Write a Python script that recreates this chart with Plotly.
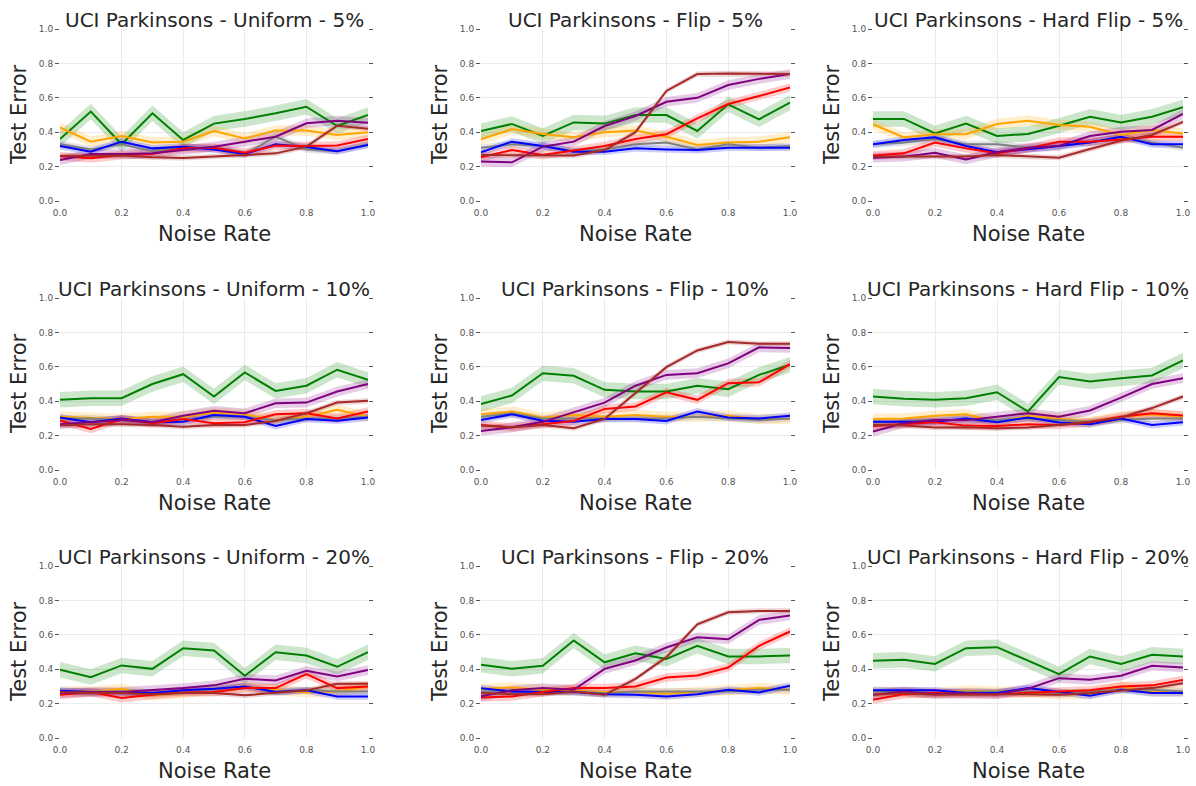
import plotly.graph_objects as go

# ---------------- data ----------------
NOISE = [0.0, 0.1, 0.2, 0.3, 0.4, 0.5, 0.6, 0.7, 0.8, 0.9, 1.0]

TITLES = [
    "UCI Parkinsons - Uniform - 5%", "UCI Parkinsons - Flip - 5%", "UCI Parkinsons - Hard Flip - 5%",
    "UCI Parkinsons - Uniform - 10%", "UCI Parkinsons - Flip - 10%", "UCI Parkinsons - Hard Flip - 10%",
    "UCI Parkinsons - Uniform - 20%", "UCI Parkinsons - Flip - 20%", "UCI Parkinsons - Hard Flip - 20%",
]

Y_TICKS = [0.0, 0.2, 0.4, 0.6, 0.8, 1.0]
X_TICKS = [0.0, 0.2, 0.4, 0.6, 0.8, 1.0]

GREEN = [
    [0.36, 0.52, 0.33, 0.51, 0.355, 0.45, 0.477, 0.51, 0.548, 0.436, 0.50],
    [0.407, 0.448, 0.378, 0.457, 0.45, 0.50, 0.50, 0.407, 0.562, 0.475, 0.572],
    [0.477, 0.477, 0.393, 0.45, 0.378, 0.39, 0.438, 0.49, 0.457, 0.49, 0.545],
    [0.408, 0.417, 0.417, 0.50, 0.557, 0.427, 0.567, 0.46, 0.49, 0.583, 0.524],
    [0.384, 0.433, 0.563, 0.548, 0.466, 0.456, 0.456, 0.49, 0.47, 0.553, 0.612],
    [0.427, 0.414, 0.408, 0.417, 0.452, 0.34, 0.54, 0.515, 0.534, 0.55, 0.637],
    [0.397, 0.354, 0.422, 0.402, 0.522, 0.509, 0.362, 0.499, 0.48, 0.414, 0.499],
    [0.426, 0.402, 0.42, 0.567, 0.44, 0.493, 0.46, 0.536, 0.474, 0.474, 0.48],
    [0.449, 0.455, 0.431, 0.522, 0.528, 0.449, 0.371, 0.474, 0.431, 0.484, 0.474],
]
ORANGE = [
    [0.428, 0.345, 0.378, 0.34, 0.345, 0.407, 0.364, 0.41, 0.41, 0.384, 0.40],
    [0.358, 0.418, 0.39, 0.37, 0.40, 0.41, 0.374, 0.326, 0.34, 0.345, 0.37],
    [0.446, 0.37, 0.388, 0.388, 0.448, 0.467, 0.442, 0.432, 0.384, 0.413, 0.393],
    [0.31, 0.305, 0.297, 0.31, 0.31, 0.334, 0.324, 0.29, 0.31, 0.35, 0.31],
    [0.324, 0.34, 0.305, 0.32, 0.31, 0.32, 0.31, 0.31, 0.315, 0.297, 0.297],
    [0.297, 0.30, 0.315, 0.324, 0.28, 0.315, 0.30, 0.28, 0.31, 0.324, 0.31],
    [0.271, 0.271, 0.286, 0.248, 0.261, 0.286, 0.30, 0.28, 0.265, 0.271, 0.30],
    [0.286, 0.294, 0.28, 0.275, 0.267, 0.267, 0.257, 0.267, 0.277, 0.29, 0.28],
    [0.271, 0.265, 0.261, 0.275, 0.271, 0.267, 0.255, 0.255, 0.30, 0.271, 0.271],
]
GRAY = [
    [0.33, 0.30, 0.33, 0.29, 0.31, 0.31, 0.27, 0.374, 0.30, 0.29, 0.33],
    [0.31, 0.33, 0.32, 0.29, 0.30, 0.33, 0.34, 0.30, 0.33, 0.31, 0.32],
    [0.33, 0.34, 0.36, 0.33, 0.33, 0.31, 0.32, 0.34, 0.37, 0.34, 0.31],
    [0.30, 0.30, 0.29, 0.28, 0.29, 0.31, 0.31, 0.29, 0.30, 0.30, 0.31],
    [0.31, 0.33, 0.30, 0.30, 0.30, 0.30, 0.30, 0.31, 0.30, 0.29, 0.30],
    [0.28, 0.28, 0.29, 0.29, 0.29, 0.30, 0.29, 0.28, 0.29, 0.30, 0.30],
    [0.27, 0.27, 0.27, 0.26, 0.27, 0.28, 0.30, 0.27, 0.28, 0.27, 0.27],
    [0.27, 0.27, 0.27, 0.27, 0.26, 0.27, 0.27, 0.27, 0.27, 0.28, 0.28],
    [0.27, 0.27, 0.26, 0.27, 0.27, 0.27, 0.26, 0.27, 0.28, 0.28, 0.27],
]
BLUE = [
    [0.32, 0.287, 0.345, 0.306, 0.316, 0.30, 0.273, 0.33, 0.314, 0.29, 0.326],
    [0.283, 0.345, 0.32, 0.287, 0.287, 0.306, 0.30, 0.296, 0.31, 0.31, 0.31],
    [0.33, 0.355, 0.37, 0.32, 0.283, 0.30, 0.32, 0.34, 0.374, 0.33, 0.33],
    [0.305, 0.278, 0.30, 0.278, 0.28, 0.32, 0.31, 0.256, 0.297, 0.287, 0.305],
    [0.29, 0.324, 0.287, 0.28, 0.297, 0.297, 0.285, 0.34, 0.305, 0.30, 0.315],
    [0.28, 0.28, 0.28, 0.30, 0.278, 0.305, 0.276, 0.266, 0.30, 0.262, 0.278],
    [0.275, 0.267, 0.267, 0.261, 0.277, 0.286, 0.30, 0.267, 0.277, 0.242, 0.242],
    [0.29, 0.271, 0.267, 0.267, 0.255, 0.251, 0.242, 0.255, 0.28, 0.265, 0.304],
    [0.277, 0.277, 0.277, 0.261, 0.261, 0.29, 0.267, 0.246, 0.28, 0.261, 0.261],
]
RED = [
    [0.26, 0.248, 0.267, 0.273, 0.306, 0.31, 0.28, 0.323, 0.32, 0.323, 0.36],
    [0.254, 0.296, 0.267, 0.293, 0.32, 0.36, 0.388, 0.48, 0.564, 0.61, 0.66],
    [0.264, 0.277, 0.34, 0.306, 0.277, 0.306, 0.345, 0.345, 0.358, 0.374, 0.374],
    [0.287, 0.239, 0.295, 0.272, 0.297, 0.272, 0.278, 0.324, 0.33, 0.30, 0.34],
    [0.262, 0.248, 0.266, 0.285, 0.355, 0.369, 0.452, 0.408, 0.505, 0.51, 0.615],
    [0.256, 0.266, 0.278, 0.258, 0.256, 0.266, 0.262, 0.278, 0.31, 0.33, 0.317],
    [0.251, 0.267, 0.232, 0.251, 0.265, 0.267, 0.29, 0.29, 0.371, 0.29, 0.30],
    [0.236, 0.242, 0.267, 0.29, 0.29, 0.30, 0.352, 0.364, 0.41, 0.536, 0.619],
    [0.222, 0.255, 0.261, 0.255, 0.255, 0.261, 0.271, 0.277, 0.30, 0.306, 0.338],
]
PURPLE = [
    [0.238, 0.273, 0.273, 0.277, 0.296, 0.316, 0.345, 0.374, 0.452, 0.467, 0.455],
    [0.229, 0.225, 0.316, 0.345, 0.436, 0.494, 0.577, 0.60, 0.674, 0.71, 0.738],
    [0.252, 0.258, 0.28, 0.242, 0.283, 0.31, 0.32, 0.378, 0.403, 0.413, 0.506],
    [0.266, 0.28, 0.29, 0.278, 0.315, 0.344, 0.33, 0.388, 0.392, 0.456, 0.50],
    [0.227, 0.248, 0.28, 0.334, 0.392, 0.49, 0.553, 0.563, 0.62, 0.713, 0.709],
    [0.223, 0.272, 0.29, 0.29, 0.31, 0.33, 0.31, 0.346, 0.421, 0.50, 0.534],
    [0.261, 0.267, 0.267, 0.277, 0.29, 0.306, 0.344, 0.335, 0.391, 0.358, 0.395],
    [0.242, 0.277, 0.29, 0.28, 0.402, 0.451, 0.526, 0.586, 0.574, 0.687, 0.712],
    [0.251, 0.271, 0.255, 0.261, 0.255, 0.286, 0.348, 0.338, 0.362, 0.42, 0.41],
]
BROWN = [
    [0.262, 0.265, 0.265, 0.254, 0.25, 0.258, 0.267, 0.277, 0.316, 0.438, 0.42],
    [0.267, 0.267, 0.264, 0.264, 0.296, 0.40, 0.64, 0.738, 0.742, 0.738, 0.738],
    [0.258, 0.258, 0.258, 0.258, 0.267, 0.258, 0.252, 0.302, 0.35, 0.384, 0.46],
    [0.258, 0.266, 0.266, 0.262, 0.252, 0.262, 0.262, 0.285, 0.33, 0.392, 0.402],
    [0.258, 0.248, 0.262, 0.243, 0.297, 0.447, 0.598, 0.695, 0.744, 0.734, 0.734],
    [0.262, 0.258, 0.247, 0.248, 0.243, 0.247, 0.262, 0.28, 0.305, 0.36, 0.427],
    [0.267, 0.261, 0.261, 0.255, 0.261, 0.261, 0.248, 0.261, 0.277, 0.315, 0.315],
    [0.261, 0.255, 0.255, 0.271, 0.251, 0.344, 0.47, 0.661, 0.731, 0.739, 0.739],
    [0.251, 0.261, 0.251, 0.255, 0.255, 0.255, 0.251, 0.261, 0.277, 0.29, 0.319],
]

# band half-widths (spread around each mean line)
BAND = {"green": 0.045, "orange": 0.03, "gray": 0.02, "blue": 0.02,
        "red": 0.025, "purple": 0.028, "brown": 0.015}

SERIES = [
    ("green", GREEN, "rgb(0,128,0)", "rgba(0,128,0,0.2)"),
    ("orange", ORANGE, "rgb(255,165,0)", "rgba(255,165,0,0.2)"),
    ("gray", GRAY, "rgb(128,128,128)", "rgba(128,128,128,0.2)"),
    ("blue", BLUE, "rgb(0,0,255)", "rgba(0,0,255,0.2)"),
    ("red", RED, "rgb(255,0,0)", "rgba(255,0,0,0.2)"),
    ("purple", PURPLE, "rgb(128,0,128)", "rgba(128,0,128,0.2)"),
    ("brown", BROWN, "rgb(165,42,42)", "rgba(165,42,42,0.2)"),
]

# ---------------- layout geometry (pixels) ----------------
W, H = 1196, 786
COLS = [(60, 368), (481, 790), (873, 1183)]
ROWS = [(29, 201), (298, 470), (566, 738)]

TEXT = "#262626"
TICKC = "#555555"
FONT = "DejaVu Sans"

fig = go.Figure()
annotations = []
layout = {}

for p in range(9):
    r, c = divmod(p, 3)
    idx = p + 1
    xa = "x" if idx == 1 else f"x{idx}"
    ya = "y" if idx == 1 else f"y{idx}"
    x0, x1 = COLS[c]
    y0, y1 = ROWS[r]

    for name, data, lc, fc in SERIES:
        vals = data[p]
        up = [v + BAND[name] for v in vals]
        lo = [v - BAND[name] for v in vals]
        fig.add_trace(go.Scatter(
            x=NOISE + NOISE[::-1], y=up + lo[::-1], fill="toself",
            fillcolor=fc, line=dict(width=0), mode="lines",
            hoverinfo="skip", showlegend=False, xaxis=xa, yaxis=ya))
    for name, data, lc, fc in SERIES:
        fig.add_trace(go.Scatter(
            x=NOISE, y=data[p], mode="lines", line=dict(color=lc, width=2),
            name=name, showlegend=False, xaxis=xa, yaxis=ya))

    layout["xaxis" if idx == 1 else f"xaxis{idx}"] = dict(
        domain=[x0 / W, x1 / W], range=[0, 1], anchor=ya, automargin=False,
        tickvals=X_TICKS, ticktext=[f"{v:.1f}" for v in X_TICKS],
        showgrid=True, gridcolor="#ebebeb", gridwidth=1,
        zeroline=False, showline=False, ticks="", ticklabelstandoff=5,
        tickfont=dict(family=FONT, size=9, color=TICKC))
    layout["yaxis" if idx == 1 else f"yaxis{idx}"] = dict(
        domain=[1 - y1 / H, 1 - y0 / H], range=[0, 1], anchor=xa, automargin=False,
        tickvals=Y_TICKS, ticktext=[f"{v:.1f}" for v in Y_TICKS],
        showgrid=True, gridcolor="#ebebeb", gridwidth=1,
        zeroline=False, showline=True, linecolor="rgba(0,0,0,0)", mirror="ticks",
        ticks="outside", ticklen=4, tickcolor=TICKC, tickwidth=1,
        tickfont=dict(family=FONT, size=9, color=TICKC))
    # end-tick overlay axis (corner tick marks at x = 0 and x = 1)
    oid = idx + 9
    layout[f"xaxis{oid}"] = dict(
        domain=[x0 / W, x1 / W], range=[0, 1], anchor=ya, overlaying=xa,
        automargin=False, tickvals=[X_TICKS[0], X_TICKS[-1]], showticklabels=False,
        showgrid=False, zeroline=False, showline=True, linecolor="rgba(0,0,0,0)",
        mirror="ticks", ticks="outside", ticklen=4, tickcolor=TICKC, tickwidth=1)

    # subplot title
    annotations.append(dict(
        text=TITLES[p], xref="paper", yref="paper",
        x=(x0 + x1) / 2 / W, y=1 - (y0 - 10 + 1) / H,
        xanchor="center", yanchor="middle", showarrow=False,
        font=dict(family=FONT, size=20, color=TEXT)))
    # x-axis title
    annotations.append(dict(
        text="Noise Rate", xref="paper", yref="paper",
        x=(x0 + x1) / 2 / W, y=1 - (y1 + 32 + 1) / H,
        xanchor="center", yanchor="middle", showarrow=False,
        font=dict(family=FONT, size=21, color=TEXT)))
    # y-axis title
    annotations.append(dict(
        text="Test Error", xref="paper", yref="paper",
        x=(x0 - 41) / W, y=1 - (y0 + y1) / 2 / H,
        xanchor="center", yanchor="middle", showarrow=False, textangle=-90,
        font=dict(family=FONT, size=21, color=TEXT)))

fig.update_layout(
    width=W, height=H, margin=dict(l=0, r=0, t=0, b=0, autoexpand=False),
    paper_bgcolor="white", plot_bgcolor="white",
    showlegend=False, annotations=annotations, **layout)

fig.write_html(
    "out.html",
    config={"displayModeBar": False},
    post_script="document.body.style.margin='0';document.body.style.overflow='hidden';",
)
